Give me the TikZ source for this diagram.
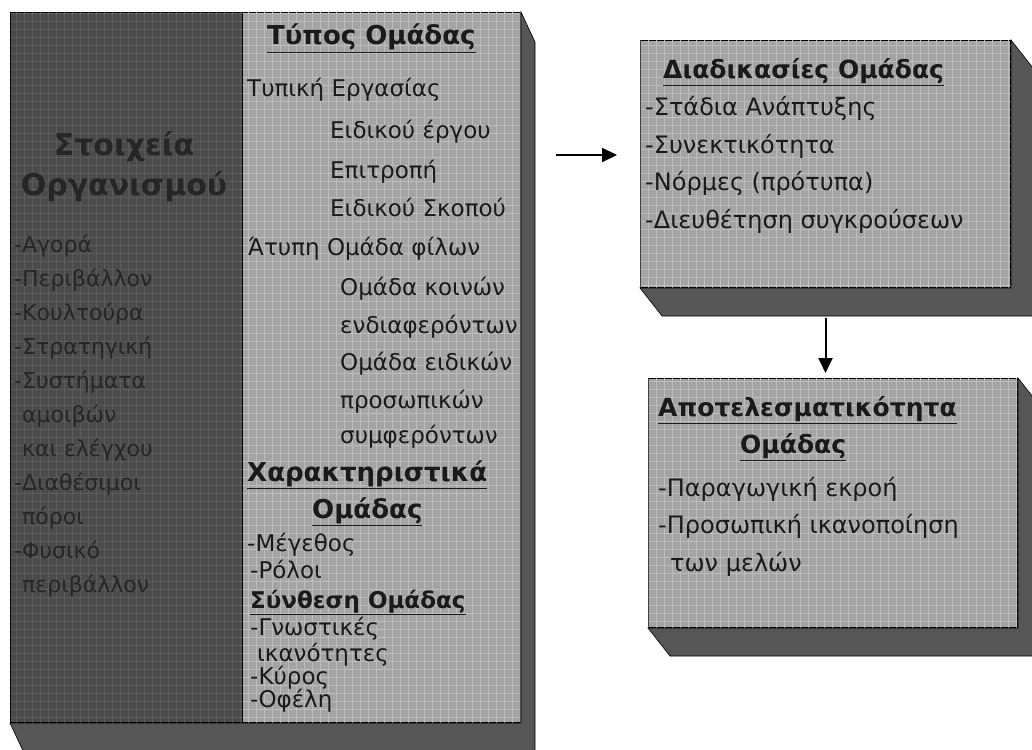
\documentclass[tikz,border=0pt]{standalone}
\usepackage{fontspec}
\setmainfont{DejaVu Sans}
\usetikzlibrary{positioning,arrows.meta,calc,patterns.meta}
\definecolor{panelDark}{HTML}{4B4B4B}
\definecolor{faceGray}{HTML}{A4A4A4}
\definecolor{sideGray}{HTML}{565656}
\definecolor{gridLight}{HTML}{BDBDBD}
\definecolor{gridDark}{HTML}{5C5C5C}
\definecolor{inkDark}{HTML}{1A1A1A}
\definecolor{inkDim}{HTML}{262626}

\begin{document}
\begin{tikzpicture}[x=1pt, y=-1pt, >={Triangle[length=15pt,width=14pt]},
  panel/.style={draw=black, line width=1pt, inner sep=0pt, anchor=north west},
  face/.style={panel, fill=faceGray,
    postaction={pattern={Hatch[distance=8pt,angle=0,line width=.6pt]}, pattern color=gridLight}},
  darkface/.style={panel, fill=panelDark,
    postaction={pattern={Hatch[distance=8pt,angle=0,line width=.6pt]}, pattern color=gridDark}},
  side/.style={fill=sideGray, draw=black, line width=.6pt},
  txt/.style={anchor=north west, inner sep=0pt, align=left, text=inkDark,
    font=\fontsize{24}{37.5}\selectfont},
  dimtxt/.style={txt, text=inkDim},
  ln/.style={anchor=base west, inner sep=0pt, text=inkDark, font=\fontsize{23}{28}\selectfont},
  hdl/.style={ln, font=\fontsize{26}{28}\selectfont\bfseries},
  hds/.style={ln, font=\fontsize{23}{28}\selectfont\bfseries},
  link/.style={->, line width=2pt}]
\useasboundingbox (0,0) rectangle (1032,749);
\fill[white] (0,0) rectangle (1032,749);

% left group: organisation + group type / characteristics
\node[face, minimum width=510pt, minimum height=710pt] (grp) at (10,12) {};
\node[darkface, minimum width=232pt, minimum height=710pt] (org) at (10,12) {};

% right boxes
\node[face, minimum width=370pt, minimum height=247pt] (proc) at (640,40) {};
\node[face, minimum width=369pt, minimum height=249pt] (eff) at (648,378) {};

% 3d sides
\foreach \b/\dx/\dy in {grp/14/30, proc/22/28, eff/22/28}
  \filldraw[side] (\b.north east) -- ++(\dx,\dy) -- ($(\b.south east)+(\dx,\dy)$)
    -- ($(\b.south west)+(\dx,\dy)$) -- (\b.south west) -- (\b.south east) -- cycle;

% organisation elements
\node[dimtxt, anchor=center, align=center, font=\fontsize{30}{40}\selectfont\bfseries]
  (orgT) at (124,167) {Στοιχεία\\Οργανισμού};
\node[dimtxt, font=\fontsize{22}{34}\selectfont] (orgL) at (14,235) {-Αγορά\\-Περιβάλλον\\-Κουλτούρα\\-Στρατηγική\\
  -Συστήματα\\\hspace*{8pt}αμοιβών\\\hspace*{8pt}και ελέγχου\\-Διαθέσιμοι\\
  \hspace*{8pt}πόροι\\-Φυσικό\\\hspace*{8pt}περιβάλλον};

% group type, characteristics, composition
\foreach \y/\x/\s/\t [count=\i] in {
  45/267/hdl/{\underline{Τύπος Ομάδας}},
  96/247/ln/{Τυπική Εργασίας},
  138/330/ln/{Ειδικού έργου},
  178/330/ln/{Επιτροπή},
  216/330/ln/{Ειδικού Σκοπού},
  255/248/ln/{Άτυπη Ομάδα φίλων},
  295/340/ln/{Ομάδα κοινών},
  333/340/ln/{ενδιαφερόντων},
  370/340/ln/{Ομάδα ειδικών},
  408/340/ln/{προσωπικών},
  443/340/ln/{συμφερόντων},
  481/247/hdl/{\underline{Χαρακτηριστικά}},
  518/312/hdl/{\underline{Ομάδας}},
  551/247/ln/{-Μέγεθος},
  578/250/ln/{-Ρόλοι},
  608/250/hds/{\underline{Σύνθεση Ομάδας}},
  635/250/ln/{-Γνωστικές},
  661/257/ln/{ικανότητες},
  684/250/ln/{-Κύρος},
  707/250/ln/{-Οφέλη}}
  \node[\s] (ty\i) at (\x,\y) {\t};

% processes
\node[txt] (procL) at ([shift={(5,18)}]proc.north west)
  {\hspace*{18pt}{\bfseries\fontsize{25}{37.5}\selectfont\underline{Διαδικασίες Ομάδας}}\\
  -Στάδια Ανάπτυξης\\-Συνεκτικότητα\\-Νόρμες (πρότυπα)\\-Διευθέτηση συγκρούσεων};

% effectiveness
\node[txt] (effL) at ([shift={(10,18)}]eff.north west)
  {{\bfseries\fontsize{25}{37.5}\selectfont\underline{Αποτελεσματικότητα}}\\
  \hspace*{82pt}{\bfseries\fontsize{25}{37.5}\selectfont\underline{Ομάδας}}\\[5pt]
  -Παραγωγική εκροή\\-Προσωπική ικανοποίηση\\\hspace*{12pt}των μελών};

% connectors
\coordinate (lvl) at (0,155);
\draw[link, shorten <=35pt, shorten >=23pt] (grp.east |- lvl) -- (proc.west |- lvl);
\draw[link, shorten <=30pt, shorten >=5pt] (proc.south) -- (proc.south |- eff.north);
\end{tikzpicture}
\end{document}
